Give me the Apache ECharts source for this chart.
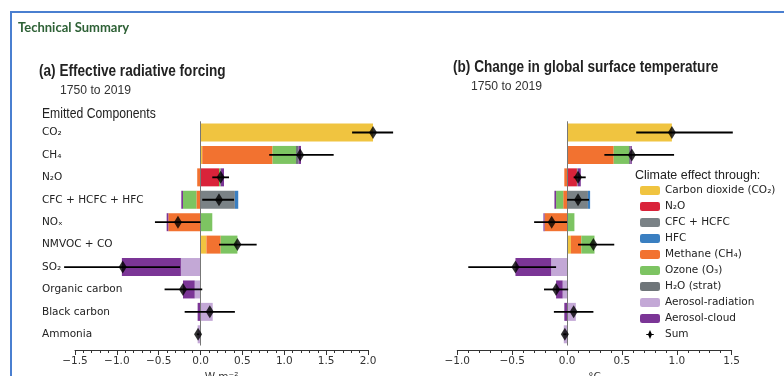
<!DOCTYPE html>
<html><head><meta charset="utf-8">
<script src="https://cdn.jsdelivr.net/npm/echarts@6/dist/echarts.min.js"></script>
<style>html,body{margin:0;padding:0;background:#fff}#c{width:784px;height:376px}</style>
</head><body><div id="c"></div>
<script>
const categories = ['CO₂','CH₄','N₂O','CFC + HCFC + HFC','NOₓ','NMVOC + CO','SO₂','Organic carbon','Black carbon','Ammonia'];
const componentNames = ['Carbon dioxide (CO₂)','N₂O','CFC + HCFC','HFC','Methane (CH₄)','Ozone (O₃)','H₂O (strat)','Aerosol-radiation','Aerosol-cloud'];
const componentColors = ['#F0C440','#D9233A','#7A8286','#3A7FC1','#F27230','#7DC462','#6E7579','#C3A8D6','#7B3596'];

// (a) Effective radiative forcing, W m-2, per component (rows follow categories)
const erfCO2      = [2.06, 0.02, 0, 0, 0, 0.07, 0, 0, 0, 0];
const erfN2O      = [0, 0, 0.22, 0, 0, 0, 0, 0, 0, 0];
const erfCFC      = [0, 0, 0, 0.41, 0, 0, 0, 0, 0, 0];
const erfHFC      = [0, 0, 0, 0.04, 0, 0, 0, 0, 0, 0];
const erfMethane  = [0, 0.84, -0.04, -0.05, -0.385, 0.17, 0, 0, 0, 0];
const erfOzone    = [0, 0.28, 0.02, -0.16, 0.14, 0.20, 0, 0, 0, 0];
const erfH2O      = [0, 0.03, 0, 0, 0, 0, 0, 0, 0, 0];
const erfAerRad   = [0, 0, 0, 0, 0, 0, -0.235, -0.07, 0.145, -0.035];
const erfAerCloud = [0, 0.03, 0.04, -0.02, -0.02, 0, -0.705, -0.14, -0.035, 0];
const erfSum      = [2.06, 1.19, 0.24, 0.22, -0.27, 0.44, -0.93, -0.21, 0.11, -0.03];
const erfLow      = [1.81, 0.82, 0.14, 0.02, -0.545, 0.22, -1.63, -0.43, -0.19, -0.045];
const erfHigh     = [2.30, 1.59, 0.34, 0.40, 0.0, 0.67, -0.245, 0.02, 0.41, -0.015];

// (b) Change in global surface temperature, °C
const gsatCO2      = [0.955, 0.005, 0, 0, 0, 0.035, 0, 0, 0, 0];
const gsatN2O      = [0, 0, 0.09, 0, 0, 0, 0, 0, 0, 0];
const gsatCFC      = [0, 0, 0, 0.19, 0, 0, 0, 0, 0, 0];
const gsatHFC      = [0, 0, 0, 0.02, 0, 0, 0, 0, 0, 0];
const gsatMethane  = [0, 0.42, -0.025, -0.035, -0.205, 0.095, 0, 0, 0, 0];
const gsatOzone    = [0, 0.14, 0.005, -0.065, 0.067, 0.12, 0, 0, 0, 0];
const gsatH2O      = [0, 0.012, 0, 0, 0, 0, 0, 0, 0, 0];
const gsatAerRad   = [0, 0, 0, 0, 0, 0, -0.145, -0.04, 0.08, -0.03];
const gsatAerCloud = [0, 0.013, 0.03, -0.015, -0.01, 0, -0.325, -0.06, -0.025, 0];
const gsatSum      = [0.955, 0.59, 0.10, 0.10, -0.14, 0.24, -0.47, -0.10, 0.06, -0.02];
const gsatLow      = [0.63, 0.34, 0.06, 0.0, -0.30, 0.10, -0.90, -0.21, -0.12, -0.035];
const gsatHigh     = [1.51, 0.975, 0.17, 0.20, 0.0, 0.43, -0.10, 0.01, 0.24, -0.005];

const ticksA = ['−1.5','−1.0','−0.5','0.0','0.5','1.0','1.5','2.0'];
const ticksB = ['−1.0','−0.5','0.0','0.5','1.0','1.5'];

const erfComponents = [erfCO2, erfN2O, erfCFC, erfHFC, erfMethane, erfOzone, erfH2O, erfAerRad, erfAerCloud];
const gsatComponents = [gsatCO2, gsatN2O, gsatCFC, gsatHFC, gsatMethane, gsatOzone, gsatH2O, gsatAerRad, gsatAerCloud];

const DJ = '"DejaVu Sans", sans-serif';
const ARIAL = '"Liberation Sans", Arial, sans-serif';

function xAxisFor(gridIndex, min, max, ticks, name) {
  return {
    type: 'value', gridIndex, min, max, interval: 0.5, offset: 4.5,
    axisLine: { show: true, onZero: false, lineStyle: { color: '#333', width: 1 } },
    axisTick: { show: true, length: 5, lineStyle: { color: '#333' } },
    minorTick: { show: true, splitNumber: 5, length: 3, lineStyle: { color: '#333' } },
    splitLine: { show: false },
    axisLabel: { color: '#333', fontFamily: DJ, fontSize: 10.5, margin: 6,
      formatter: (v) => ticks[Math.round((v - min) / 0.5)] },
    name, nameLocation: 'middle', nameGap: 22,
    nameTextStyle: { color: '#333', fontFamily: DJ, fontSize: 10.5 }
  };
}
function yAxisFor(gridIndex, showLabels) {
  return {
    type: 'category', gridIndex, data: categories, inverse: true,
    axisLine: { show: false }, axisTick: { show: false }, splitLine: { show: false },
    axisLabel: { show: showLabels, align: 'left', margin: 33, color: '#222', fontFamily: DJ, fontSize: 10.5 }
  };
}

const series = [];
function addPanel(idx, comps, sums, lows, highs) {
  comps.forEach((arr, k) => {
    const s = {
      type: 'bar', name: componentNames[k], xAxisIndex: idx, yAxisIndex: idx,
      stack: 'p' + idx, barWidth: 18, data: arr, clip: false,
      itemStyle: { color: componentColors[k] }, emphasis: { disabled: true }
    };
    if (k === 0) {
      s.markLine = { silent: true, symbol: 'none', label: { show: false },
        lineStyle: { color: '#777', width: 1, type: 'solid' }, data: [{ xAxis: 0 }] };
    }
    series.push(s);
  });
  series.push({
    type: 'custom', name: 'Sum', xAxisIndex: idx, yAxisIndex: idx, z: 5, clip: false,
    data: lows.map((l, i) => [l, i, highs[i]]),
    encode: { x: [0, 2], y: 1 },
    renderItem: function (params, api) {
      const a = api.coord([api.value(0), api.value(1)]);
      const b = api.coord([api.value(2), api.value(1)]);
      return { type: 'line', shape: { x1: a[0], y1: a[1], x2: b[0], y2: b[1] },
        style: { stroke: '#000', lineWidth: 1.8 } };
    }
  });
  series.push({
    type: 'scatter', name: 'Sum', xAxisIndex: idx, yAxisIndex: idx, z: 6, clip: false,
    symbol: 'diamond', symbolSize: [8, 13],
    itemStyle: { color: '#000' },
    data: sums.map((v, i) => [v, i])
  });
}
addPanel(0, erfComponents, erfSum, erfLow, erfHigh);
addPanel(1, gsatComponents, gsatSum, gsatLow, gsatHigh);

const sumIcon = 'path://M0,5.4 L2.6,5.4 L5,0 L7.4,5.4 L10,5.4 L10,6.6 L7.4,6.6 L5,12 L2.6,6.6 L0,6.6 Z';

const chart = echarts.init(document.getElementById('c'), null, { renderer: 'canvas' });
chart.setOption({
  animation: false,
  backgroundColor: '#fff',
  grid: [
    { left: 75, right: 416, top: 121.3, height: 224.2, outerBoundsMode: 'none', containLabel: false },
    { left: 457.3, right: 52.3, top: 121.3, height: 224.2, outerBoundsMode: 'none', containLabel: false }
  ],
  xAxis: [ xAxisFor(0, -1.5, 2.0, ticksA, 'W m⁻²'), xAxisFor(1, -1.0, 1.5, ticksB, '°C') ],
  yAxis: [ yAxisFor(0, true), yAxisFor(1, false) ],
  legend: {
    orient: 'vertical', left: 635, top: 179.5, itemWidth: 20, itemHeight: 9, itemGap: 4,
    selectedMode: false,
    textStyle: { fontFamily: DJ, fontSize: 10.5, color: '#222', lineHeight: 12 },
    data: componentNames.map(n => ({ name: n })).concat([{ name: 'Sum', icon: sumIcon, itemStyle: { color: '#000' } }])
  },
  graphic: [
    { type: 'rect', shape: { x: 11, y: 12, width: 900, height: 500 }, style: { fill: 'none', stroke: '#4A7FD0', lineWidth: 2 }, silent: true },
    { type: 'text', x: 18, y: 28, style: { text: 'Technical Summary', fill: '#2E6136', font: 'bold 13px Lato, "Open Sans", sans-serif', verticalAlign: 'middle' } },
    { type: 'text', x: 39, y: 72, scaleX: 0.85, style: { text: '(a) Effective radiative forcing', fill: '#222', font: 'bold 16px ' + ARIAL, verticalAlign: 'middle' } },
    { type: 'text', x: 60, y: 90, scaleX: 0.9, style: { text: '1750 to 2019', fill: '#333', font: '13.5px ' + ARIAL, verticalAlign: 'middle' } },
    { type: 'text', x: 42, y: 114, scaleX: 0.87, style: { text: 'Emitted Components', fill: '#222', font: '14px ' + ARIAL, verticalAlign: 'middle' } },
    { type: 'text', x: 453, y: 68, scaleX: 0.85, style: { text: '(b) Change in global surface temperature', fill: '#222', font: 'bold 16px ' + ARIAL, verticalAlign: 'middle' } },
    { type: 'text', x: 471, y: 86.5, scaleX: 0.9, style: { text: '1750 to 2019', fill: '#333', font: '13.5px ' + ARIAL, verticalAlign: 'middle' } },
    { type: 'text', x: 635, y: 175, scaleX: 0.96, style: { text: 'Climate effect through:', fill: '#222', font: '13px ' + ARIAL, verticalAlign: 'middle' } }
  ],
  series
});
</script></body></html>
